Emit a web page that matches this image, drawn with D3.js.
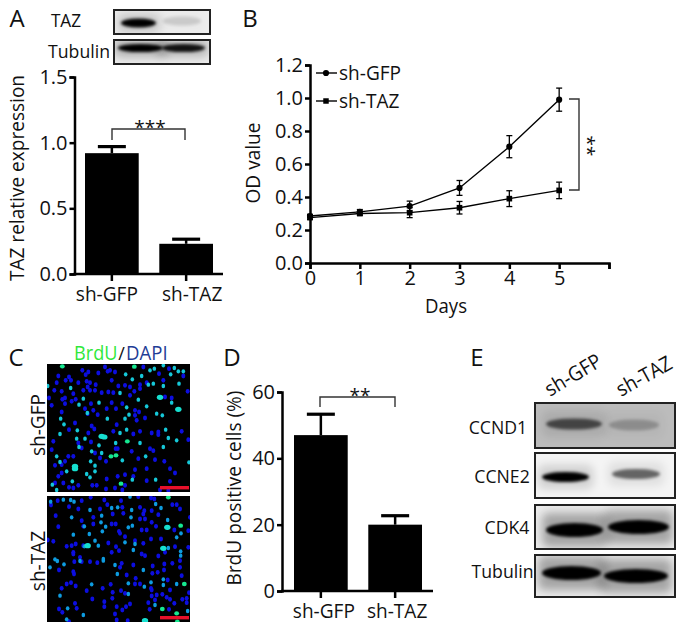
<!DOCTYPE html>
<html><head><meta charset="utf-8">
<script src="https://cdn.jsdelivr.net/npm/d3@7"></script>
<style>html,body{margin:0;padding:0;background:#fff}svg{display:block}text{font-family:"Open Sans",sans-serif;fill:#111}</style>
</head><body><svg id="c" width="685" height="632"></svg>
<script>
// ---------- data ----------
const groups = ["sh-GFP", "sh-TAZ"];
const tazExpression = [0.92, 0.23];
const tazExpressionErr = [0.05, 0.035];
const brduPositive = [47, 20];
const brduPositiveErr = [6.3, 2.7];
const days = [0, 1, 2, 3, 4, 5];
const odGfp = [0.285, 0.31, 0.345, 0.455, 0.705, 0.99];
const odGfpErr = [0.01, 0.014, 0.03, 0.045, 0.067, 0.07];
const odTaz = [0.275, 0.3, 0.305, 0.335, 0.39, 0.44];
const odTazErr = [0.01, 0.012, 0.03, 0.038, 0.048, 0.05];
const tazTicks = [0, 0.5, 1, 1.5];
const odTicks = [0, 0.2, 0.4, 0.6, 0.8, 1, 1.2];
const brduTicks = [0, 20, 40, 60];
// blot band densities (lane 1, lane 2)
const densTAZ = [1, 0.13];
const densTubulinA = [1, 0.9];
const densCCND1 = [0.6, 0.22];
const densCCNE2 = [1, 0.55];
const densCDK4 = [1, 1];
const densTubulinE = [1, 1];
// micrograph nuclei, field coordinates
const topBlue = [[20,130],[12,108],[40,42],[62,55],[72,45],[78,55],[35,62],[28,85],[50,88],[60,108],[52,112],[85,95],[100,62],[112,25],[122,38],[130,30],[160,33],[188,28],[200,55],[210,30],[125,58],[135,62],[152,68],[150,85],[135,85],[128,75],[115,85],[170,92],[190,90],[205,92],[220,72],[240,70],[255,75],[285,68],[285,80],[305,62],[355,55],[342,35],[372,20],[415,42],[428,88],[380,108],[255,100],[268,88],[232,125],[200,122],[138,125],[92,112],[80,118],[120,140],[128,155],[145,145],[158,158],[185,140],[213,140],[270,145],[282,150],[270,160],[275,175],[300,168],[215,188],[140,192],[90,183],[60,125],[50,150],[180,15],[195,25],[295,15],[360,105],
[25,238],[20,263],[72,203],[130,213],[148,201],[100,243],[110,258],[138,240],[150,273],[165,288],[183,298],[260,268],[212,260],[218,260],[280,290],[320,213],[340,210],[340,218],[285,208],[265,216],[315,260],[325,266],[330,293],[305,320],[270,323],[265,343],[240,338],[218,343],[185,351],[155,370],[142,370],[100,370],[85,378],[72,376],[60,298],[70,283],[50,308],[85,283],[30,310],[50,333],[40,343],[30,363],[55,363],[375,320],[390,333],[375,358],[305,356],[410,208],[430,233],[358,298],[205,208],[240,370],[183,381],[210,378],[232,384],[345,384],[370,386]];
const topCyan = [[242,37],[262,52],[290,42],[315,25],[328,20],[355,10],[388,18],[400,28],[377,37],[325,65],[310,68],[355,72],[402,65],[400,142],[335,155],[352,160],[8,72],[77,78],[115,110],[162,122],[225,93],[280,113],[245,136],[252,158],[240,170],[102,128],[127,153],[305,133],[47,170],[57,187],[187,170],[380,122],[415,28],
[45,216],[97,205],[95,230],[120,230],[225,213],[245,203],[362,203],[370,228],[395,235],[285,243],[355,255],[212,243],[162,250],[140,268],[170,273],[102,255],[232,295],[302,283],[35,283],[45,300],[137,298],[150,311],[150,328],[65,328],[125,336],[135,346],[82,358],[22,368],[35,384],[432,301],[332,353],[262,353]];
const topLarge = [[345,106],[400,142],[170,223],[178,225],[90,313],[90,320]];
const topGreen = [[52,13],[268,14],[247,238],[198,283],[213,280],[228,365]];
const bottomBlue = [[38,20],[18,33],[72,38],[100,45],[110,20],[137,10],[178,18],[165,45],[187,32],[228,20],[280,8],[318,12],[328,15],[285,40],[298,50],[320,50],[232,40],[203,60],[235,58],[295,60],[340,62],[382,32],[395,32],[405,45],[32,65],[110,80],[145,70],[145,90],[115,97],[200,90],[212,90],[40,98],[300,75],[285,75],[320,85],[333,97],[222,112],[225,118],[240,128],[290,108],[305,108],[348,135],[318,135],[270,140],[25,142],[8,138],[65,157],[80,155],[92,150],[190,147],[295,148],[200,175],[213,158],[222,170],[340,186],[360,175],[390,158],[430,110],[435,70],[430,160],[300,185],[290,180],[85,175],[85,180],[105,190],[115,155],[388,108],
[42,228],[85,233],[87,240],[78,266],[65,270],[92,276],[50,283],[125,290],[142,315],[178,323],[178,338],[173,283],[197,271],[203,295],[202,313],[228,290],[240,298],[215,338],[210,360],[232,348],[255,330],[243,338],[90,328],[95,343],[42,345],[52,355],[72,383],[215,378],[248,380],[230,208],[225,220],[265,213],[323,216],[322,238],[338,235],[358,210],[382,208],[405,220],[357,228],[410,245],[245,243],[272,253],[270,270],[285,270],[318,283],[320,288],[320,306],[335,303],[352,301],[365,310],[375,316],[375,288],[310,326],[330,318],[388,328],[412,316],[425,313],[425,326],[372,346],[314,346],[432,296],[88,203],[110,203],[157,206],[405,200],[135,203],[368,258]];
const bottomCyan = [[17,23],[55,17],[77,18],[87,23],[200,42],[218,40],[260,48],[348,42],[332,30],[258,70],[170,65],[135,48],[80,70],[168,85],[182,98],[118,97],[172,112],[133,120],[85,122],[262,95],[250,100],[368,78],[395,130],[408,118],[150,140],[130,155],[118,157],[160,155],[240,145],[270,150],[265,168],[370,162],[407,172],[407,185],[175,195],[30,196],[255,8],
[37,201],[15,220],[57,211],[105,201],[175,200],[210,213],[217,240],[295,228],[140,271],[250,268],[318,265],[298,278],[355,256],[355,273],[395,270],[45,305],[250,300],[330,333],[68,343],[115,363],[65,376],[300,380],[428,351]];
const bottomLarge = [[367,100],[355,163],[128,155],[300,380]];
const bottomGreen = [[407,95],[370,10],[418,270],[352,345],[395,358],[397,383]];

// ---------- helpers ----------
const svg = d3.select("#c");
const defs = svg.append("defs");
[["b2",2.2],["b1",1.6],["b05",0.55],["b6",5]].forEach(([id,s])=>{
  defs.append("filter").attr("id",id).attr("x","-50%").attr("y","-150%").attr("width","200%").attr("height","400%")
    .append("feGaussianBlur").attr("stdDeviation",s);
});
function label(x,y,t,size,opt={}){
  const e = svg.append("text").attr("x",x).attr("y",y).attr("font-size",size).text(t)
    .attr("text-anchor",opt.anchor||"middle");
  if(opt.rot!==undefined) e.attr("transform",`rotate(${opt.rot} ${x} ${y})`);
  if(opt.fill) e.style("fill",opt.fill);
  const sx = opt.sx===undefined?0.93:opt.sx;
  if(t && sx!==1) e.attr("textLength",e.node().getComputedTextLength()*sx).attr("lengthAdjust","spacingAndGlyphs");
  return e;
}
function styleAxis(g,w){
  g.selectAll(".domain").attr("stroke","#000").attr("stroke-width",w);
  g.selectAll(".tick line").attr("stroke","#000").attr("stroke-width",w);
  g.selectAll("text").attr("font-size",20).attr("font-family",'"Open Sans",sans-serif').style("fill","#111");
}
function bracket(points){
  svg.append("path").attr("fill","none").attr("stroke","#333").attr("stroke-width",1.4)
    .attr("d",d3.line()(points));
}

// ---------- bar panels ----------
function barPanel(cfg){
  const y = d3.scaleLinear().domain(cfg.domain).range(cfg.yRange);
  const x = d3.scaleBand().domain(groups).range(cfg.xRange).paddingInner(0.277);
  const g = svg.append("g");
  g.selectAll("rect.bar").data(groups).join("rect").attr("class","bar")
    .attr("x",d=>x(d)).attr("width",x.bandwidth())
    .attr("y",(d,i)=>y(cfg.values[i])).attr("height",(d,i)=>y(0)-y(cfg.values[i])).attr("fill","#000");
  const cx = d=>x(d)+x.bandwidth()/2;
  g.selectAll("line.err").data(groups).join("line").attr("class","err").attr("stroke","#000").attr("stroke-width",2.5)
    .attr("x1",cx).attr("x2",cx).attr("y1",(d,i)=>y(cfg.values[i])).attr("y2",(d,i)=>y(cfg.values[i]+cfg.errs[i]));
  g.selectAll("line.cap").data(groups).join("line").attr("class","cap").attr("stroke","#000").attr("stroke-width",3.2)
    .attr("x1",d=>cx(d)-14).attr("x2",d=>cx(d)+14)
    .attr("y1",(d,i)=>y(cfg.values[i]+cfg.errs[i])).attr("y2",(d,i)=>y(cfg.values[i]+cfg.errs[i]));
  const ax = svg.append("g").attr("transform",`translate(${cfg.axisX},0)`)
    .call(d3.axisLeft(y).tickValues(cfg.ticks).tickSize(5).tickPadding(2).tickFormat(cfg.fmt));
  styleAxis(ax,2.5);
  const base = svg.append("g").attr("transform",`translate(0,${y(0)})`)
    .call(d3.axisBottom(x).tickSize(7).tickPadding(5));
  base.select(".domain").attr("d",`M${cfg.axisX-1},0H${cfg.xEnd}`);
  styleAxis(base,2.5);
  base.selectAll("text").attr("dx",(d,i)=>cfg.labelDx[i]).attr("font-size",cfg.catSize)
    .each(function(){ d3.select(this).attr("textLength",this.getComputedTextLength()*0.93).attr("lengthAdjust","spacingAndGlyphs"); });
}
barPanel({domain:[0,1.5],yRange:[274,77],xRange:[85,213],values:tazExpression,errs:tazExpressionErr,
  axisX:74.5,xEnd:223,ticks:tazTicks,fmt:d3.format(".1f"),labelDx:[-5,6],catSize:20.5});
barPanel({domain:[0,60],yRange:[591,392],xRange:[294,422],values:brduPositive,errs:brduPositiveErr,
  axisX:282,xEnd:433,ticks:brduTicks,fmt:d3.format("d"),labelDx:[3,2],catSize:20.5});

bracket([[112,140],[112,129],[185,129],[185,140]]);
label(150,134,"***",19,{sx:1});
bracket([[320,407],[320,397],[395,397],[395,407]]);
label(360,402,"**",19,{sx:1});
label(24,178,"TAZ relative expression",20.5,{rot:-90});
label(241,488,"BrdU positive cells (%)",20.5,{rot:-90});

// ---------- line panel ----------
const xB = d3.scaleLinear().domain([0,6]).range([310,609]);
const yB = d3.scaleLinear().domain([0,1.2]).range([263,65]);
const axL = svg.append("g").attr("transform","translate(310,0)")
  .call(d3.axisLeft(yB).tickValues(odTicks).tickSize(5).tickPadding(2).tickFormat(d3.format(".1f")));
styleAxis(axL,2.5);
const axB = svg.append("g").attr("transform","translate(0,263)")
  .call(d3.axisBottom(xB).tickValues([0,1,2,3,4,5,6]).tickSize(6).tickPadding(2).tickFormat(d=>d<6?d:""));
styleAxis(axB,2.5);
[[odGfp,odGfpErr,"c"],[odTaz,odTazErr,"s"]].forEach(([vals,errs,sym])=>{
  svg.append("path").attr("fill","none").attr("stroke","#000").attr("stroke-width",1.4)
    .attr("d",d3.line().x((d,i)=>xB(days[i])).y(d=>yB(d))(vals));
  const g = svg.append("g");
  vals.forEach((v,i)=>{
    const X=xB(days[i]);
    [[X,X,yB(v-errs[i]),yB(v+errs[i])],[X-3,X+3,yB(v-errs[i]),yB(v-errs[i])],[X-3,X+3,yB(v+errs[i]),yB(v+errs[i])]]
      .forEach(([a,b,c,d])=>g.append("line").attr("x1",a).attr("x2",b).attr("y1",c).attr("y2",d).attr("stroke","#000").attr("stroke-width",1.3));
    const sh = sym==="c"?d3.symbolCircle:d3.symbolSquare;
    g.append("path").attr("d",d3.symbol().type(sh).size(sym==="c"?30:32)()).attr("transform",`translate(${X},${yB(v)})`);
  });
});
[[73,"sh-GFP",d3.symbolCircle],[101,"sh-TAZ",d3.symbolSquare]].forEach(([y,t,sh])=>{
  svg.append("line").attr("x1",316).attr("x2",337).attr("y1",y).attr("y2",y).attr("stroke","#000").attr("stroke-width",1.4);
  svg.append("path").attr("d",d3.symbol().type(sh).size(30)()).attr("transform",`translate(326,${y})`);
  label(339,y+6.5,t,20.5,{anchor:"start"});
});
bracket([[569,99],[579,99],[579,190],[569,190]]);
label(581,146,"**",19,{rot:90,sx:1});
label(446,313,"Days",20);
label(260,163,"OD value",20.5,{rot:-90});

// ---------- micrographs ----------
function micrograph(id,box,blue,cyan,large,green,yDomain,yRange,bar,cyanFill){
  defs.append("clipPath").attr("id",id).append("rect").attr("x",box[0]).attr("y",box[1]).attr("width",box[2]-box[0]).attr("height",box[3]-box[1]);
  const X = d3.scaleLinear().domain([0,444]).range([45,193]);
  const Y = d3.scaleLinear().domain(yDomain).range(yRange);
  svg.append("rect").attr("x",box[0]).attr("y",box[1]).attr("width",box[2]-box[0]).attr("height",box[3]-box[1]).attr("fill","#000");
  const g = svg.append("g").attr("clip-path",`url(#${id})`).append("g").attr("filter","url(#b05)");
  const put=(arr,fill,rx,ry)=>g.selectAll(null).data(arr).join("ellipse")
    .attr("cx",d=>X(d[0])).attr("cy",d=>Y(d[1])).attr("rx",rx).attr("ry",ry).attr("fill",fill);
  put(blue,"#0a10e0",2,2.4);
  put(cyan,cyanFill,1.8,2.2);
  put(large,"#18e0d0",3.2,2.6);
  put(green,"#14e890",2.4,2.2);
  svg.append("rect").attr("x",bar[0]).attr("y",bar[1]).attr("width",bar[2]).attr("height",3.4).attr("fill","#e8102a");
}
micrograph("m1",[47,364,190,492],topBlue,topCyan,topLarge,topGreen,[0,396],[362,494],[160,486,29],"#14c8d8");
micrograph("m2",[47,496,190,622],bottomBlue,bottomCyan,bottomLarge,bottomGreen,[0,396],[494,626],[160,616,29],"#109ce0");
label(74,360,"BrdU",19.5,{anchor:"start",fill:"#2fe83a"});
label(121.5,360,"/",18,{sx:1});
label(126,360,"DAPI",20,{anchor:"start",fill:"#1f3d96"});
label(45,425,"sh-GFP",20.5,{rot:-90});
label(45,561,"sh-TAZ",20.5,{rot:-90});

// ---------- blots ----------
function blot(box,bg,dens,lanes,bandH,halo){
  const [x0,y0,x1,y1]=box;
  svg.append("rect").attr("x",x0).attr("y",y0).attr("width",x1-x0).attr("height",y1-y0).attr("fill",bg);
  const id="bl"+x0+"_"+y0;
  defs.append("clipPath").attr("id",id).append("rect").attr("x",x0).attr("y",y0).attr("width",x1-x0).attr("height",y1-y0);
  const g=svg.append("g").attr("clip-path",`url(#${id})`);
  g.selectAll("rect.h").data(dens).join("rect").attr("class","h")
    .attr("x",(d,i)=>lanes[i][0]-5).attr("width",(d,i)=>lanes[i][1]-lanes[i][0]+10)
    .attr("y",(d,i)=>lanes[i][2]-bandH*1.3).attr("height",bandH*2.6).attr("rx",6)
    .attr("fill","#000").attr("opacity",d=>d*halo).attr("filter","url(#b6)");
  g.selectAll("ellipse.b").data(dens).join("ellipse").attr("class","b")
    .attr("cx",(d,i)=>(lanes[i][0]+lanes[i][1])/2).attr("rx",(d,i)=>(lanes[i][1]-lanes[i][0])/2+1)
    .attr("cy",(d,i)=>lanes[i][2]).attr("ry",bandH/2+0.6)
    .attr("fill","#000").attr("opacity",d=>d).attr("filter","url(#b1)");
  svg.append("rect").attr("x",x0).attr("y",y0).attr("width",x1-x0).attr("height",y1-y0).attr("fill","none").attr("stroke","#222").attr("stroke-width",2);
}
blot([114,10,210,34],"#eeeeee",densTAZ,[[122,155,23],[164,200,21]],8,0.15);
blot([114,40,210,64],"#ececec",densTubulinA,[[119,162,48],[163,204,48]],7,0.25);
blot([535,403,675,448],"#bcbcbc",densCCND1,[[547,601,424],[610,658,425]],10,0.15);
blot([535,453,675,498],"#f4f4f4",densCCNE2,[[543,588,477],[613,659,474]],9,0.15);
blot([535,505,675,549],"#ececec",densCDK4,[[547,602,530],[609,668,527]],13,0.3);
blot([535,555,675,597],"#ececec",densTubulinE,[[543,600,573],[605,667,576]],13,0.3);
label(66,27,"TAZ",18.5);
label(79,58,"Tubulin",19);
label(498,434,"CCND1",19);
label(502,483,"CCNE2",19);
label(507,534,"CDK4",19);
label(502.5,578,"Tubulin",19);
label(550,397,"sh-GFP",20.5,{rot:-31,anchor:"start"});
label(621,397,"sh-TAZ",20.5,{rot:-29,anchor:"start"});

// ---------- panel letters ----------
label(17,27,"A",24,{sx:1});
label(250,27,"B",24,{sx:1});
label(16,366,"C",24,{sx:1});
label(232,366,"D",24,{sx:1});
label(477,366,"E",24,{sx:1});
</script></body></html>
